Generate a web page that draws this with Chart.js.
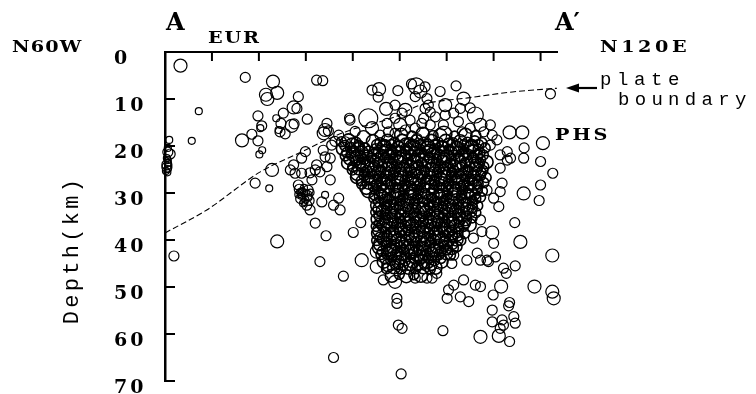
<!DOCTYPE html>
<html>
<head>
<meta charset="utf-8">
<script src="https://cdn.jsdelivr.net/npm/chart.js@4.4.0/dist/chart.umd.min.js"></script>
<style>
  html, body { margin: 0; padding: 0; background: #fff; }
  #wrap { width: 756px; height: 394px; position: relative; }
</style>
</head>
<body>
<div id="wrap"><canvas id="section"></canvas></div>
<script>
// distance along A-A' (km), depth (km), magnitude class (1 = small circle ... 5 = largest)
const scatteredQuakes = [
  [3.3,2.9,3],[17.1,5.4,2],[23.0,6.3,3],[21.5,9.1,3],[21.8,10.0,3],[23.9,8.7,3],[28.4,9.5,2],[7.2,12.6,1],
  [27.4,11.8,3],[25.2,13.0,2],[23.7,14.1,1],[19.8,13.6,2],[20.6,15.7,2],[20.3,16.2,1],[24.7,15.2,2],[27.5,15.3,2],
  [27.0,15.7,3],[24.2,16.6,1],[24.5,17.0,2],[25.6,17.4,2],[18.5,17.5,2],[16.4,18.8,3],[19.8,18.9,2],[5.7,18.9,1],
  [20.7,20.9,1],[20.1,21.8,1],[32.3,6.0,2],[33.6,6.1,2],[30.3,14.3,2],[34.1,16.6,3],[39.4,14.5,2],[43.3,14.1,5],
  [45.6,7.9,3],[49.6,8.2,2],[52.5,6.8,2],[53.5,7.2,4],[54.4,8.4,3],[53.3,9.5,2],[55.4,7.4,2],[58.6,8.4,2],
  [62.0,7.2,2],[82.1,8.9,2],[55.8,9.9,2],[63.6,9.9,3],[62.9,12.0,2],[66.1,13.4,4],[55.4,12.0,2],[55.1,14.1,2],
  [57.6,13.8,2],[59.7,13.4,2],[61.5,13.0,2],[59.3,15.5,2],[56.5,15.5,2],[62.5,14.8,2],[65.0,16.2,2],[67.9,17.0,2],
  [69.7,17.7,2],[70.7,18.7,2],[69.3,19.8,2],[73.4,17.1,3],[76.1,17.1,3],[76.5,20.4,2],[80.5,19.4,3],[76.4,22.6,2],
  [80.0,23.3,2],[72.9,21.2,2],[71.4,21.9,2],[73.6,22.6,2],[82.6,25.8,2],[80.0,28.3,2],[76.4,30.1,3],[71.4,24.7,2],
  [72.9,23.0,2],[71.8,27.9,2],[71.4,29.7,2],[79.7,31.6,2],[71.1,32.9,2],[70.0,31.1,2],[68.6,29.4,2],[74.5,36.3,2],
  [69.7,38.4,3],[75.7,40.4,3],[70.0,40.7,2],[70.4,43.6,2],[82.5,43.3,3],[74.6,45.5,2],[72.1,46.0,2],[67.2,35.7,2],
  [67.5,38.2,2],[65.7,39.6,2],[66.5,42.8,2],[68.6,44.3,2],[67.2,44.3,2],[64.3,44.3,2],[61.5,43.2,2],[61.1,45.0,2],
  [55.8,48.1,2],[57.9,47.1,2],[60.4,50.6,2],[61.5,49.6,2],[60.1,52.4,2],[62.9,52.1,2],[64.7,53.1,2],[66.1,49.6,2],
  [67.2,49.9,2],[63.6,48.5,2],[68.9,44.6,2],[72.7,47.1,2],[71.6,49.9,3],[69.9,51.7,2],[73.4,53.3,2],[73.2,54.0,2],
  [69.7,54.9,2],[74.3,56.3,2],[74.6,57.7,2],[71.8,57.0,2],[69.7,57.4,2],[72.1,58.1,2],[71.4,58.8,2],[71.1,60.4,3],
  [67.2,60.6,3],[73.4,61.6,2],[59.2,59.3,2],[78.7,49.9,3],[82.5,51.0,3],[82.8,52.4,3],[49.4,52.4,2],[49.4,53.5,2],
  [49.7,58.1,2],[50.5,58.8,2],[50.3,68.5,2],[46.5,48.5,2],[49.0,48.9,3],[53.3,48.1,2],[56.9,48.1,2],[45.1,45.7,3],
  [45.1,42.5,3],[38.0,47.7,2],[41.9,44.3,3],[33.0,44.6,2],[35.9,65.0,2],[32.0,36.4,2],[41.7,36.3,2],[40.1,38.4,2],
  [34.3,39.1,2],[1.9,43.4,2],[23.9,40.3,3],[22.8,25.1,3],[19.2,27.9,2],[22.2,29.0,1],[27.4,24.0,2],[27.7,25.8,2],
  [28.4,28.3,2],[29.1,25.8,2],[32.0,25.1,2],[34.5,24.4,2],[35.2,27.2,2],[31.3,27.2,2],[34.1,30.4,1],[33.4,31.9,2],
  [37.0,31.1,2],[35.9,32.6,2],[37.3,33.6,2],[30.9,33.6,2],[33.7,20.9,2],[35.2,22.6,2],[26.7,25.1,2],[30.9,25.7,2],
  [32.3,24.0,2],[33.0,25.5,2],[29.9,21.2,2],[29.1,22.6,2],[34.1,22.3,2],[35.5,19.8,2],[38.4,19.1,2],[41.2,19.8,2],
  [42.6,21.9,2],[46.9,19.8,2],[46.5,21.9,2],[44.8,23.0,2],[48.3,21.2,2],[34.5,15.2,2],[34.8,16.8,2],[33.8,17.3,3],
  [37.0,17.7,2],[47.3,15.2,2],[49.0,14.1,2],[47.6,17.0,2],[50.5,13.0,2],[52.2,14.5,2],[49.0,17.3,2],[51.2,16.6,2],
  [54.7,15.2,2],[53.7,18.4,2],[47.1,12.1,3],[39.3,14.1,2],[28.1,12.0,2],[44.1,8.1,2],[45.4,9.6,2],[56.1,11.3,2],
  [49.0,11.3,2],[51.2,12.3,3],[56.5,12.8,2],[59.7,11.3,3],[65.0,11.9,2],[67.2,15.5,3],[63.3,17.0,2],[58.6,17.7,3],
  [53.3,16.2,2],[50.1,15.5,3],[45.8,17.7,2],[44.1,16.2,3],[69.3,15.5,2],[40.5,16.9,2],[42.3,18.1,3],[36.2,19.0,2]
];

// small tight groups: at the section edge and the blob near 30 km
const edgeQuakes = [
  [0.9,18.7,1],[0.6,20.4,1],[0.6,21.3,2],[1.1,21.7,2],[0.4,22.6,1],[0.6,23.0,1],
  [0.6,23.6,1],[0.4,24.0,2],[0.4,24.5,2],[0.6,24.9,1],[0.2,25.3,1],[0.5,25.6,1]
];
const blobQuakes = [
  [28.6,29.2,2],[29.6,28.9,1],[30.5,29.4,2],[28.4,30.3,1],[29.3,30.1,2],[30.3,30.5,2],[31.0,29.9,1],
  [28.9,31.2,2],[29.9,31.4,1],[30.7,31.6,2],[29.4,32.2,1],[30.2,32.6,2],[29.0,30.6,1],[30.0,30.0,1],
  [29.2,29.6,1],[30.6,30.9,1],[29.7,31.9,1],[28.8,29.8,1]
];

// the dense swarm under the plate boundary, read row by row
const clusterQuakes = [
  [50.3,17.6,3],[52.6,17.9,2],[54.9,17.4,3],[57.1,17.8,2],[59.4,17.5,4],[61.7,17.9,2],[64.0,17.6,3],[66.2,17.8,2],
  [37.6,19.1,2],[39.1,18.8,3],[40.7,19.2,2],[44.3,19.0,3],[45.8,19.3,2],[47.4,18.9,3],[48.9,19.2,2],[50.5,18.9,3],[52.0,19.3,2],[53.6,19.0,3],[55.1,19.2,2],[56.7,18.9,3],[58.2,19.2,2],[59.8,18.9,3],[61.3,19.3,2],[62.9,19.0,3],[64.4,19.2,2],[66.0,18.9,2],[67.5,19.3,2],
  [37.9,20.6,3],[39.5,20.3,2],[41.1,20.7,3],[42.6,20.4,2],[44.9,20.6,2],[46.5,20.3,3],[48.1,20.7,2],[49.7,20.4,3],[51.2,20.6,2],[52.8,20.3,4],[54.3,20.7,2],[55.9,20.4,3],[57.4,20.6,2],[59.0,20.3,3],[60.5,20.7,2],[62.1,20.4,3],[63.6,20.6,2],[65.2,20.3,3],[66.7,20.7,2],[68.2,20.4,2],
  [38.4,22.1,2],[40.0,21.8,3],[41.6,22.2,2],[43.1,21.9,2],[44.6,22.1,3],[46.1,21.8,2],[47.7,22.2,3],[49.2,21.9,2],[50.8,22.1,3],[52.3,21.8,2],[53.9,22.2,3],[55.4,21.9,2],[57.0,22.1,4],[58.5,21.8,2],[60.1,22.2,3],[61.6,21.9,2],[63.2,22.1,3],[64.7,21.8,2],[66.3,22.2,3],[67.8,21.9,2],
  [39.0,23.6,3],[40.6,23.3,2],[42.2,23.7,3],[43.7,23.4,2],[45.3,23.6,2],[46.8,23.3,3],[48.4,23.7,2],[49.9,23.4,3],[51.5,23.6,2],[53.0,23.3,3],[54.6,23.7,2],[56.1,23.4,3],[57.7,23.6,2],[59.2,23.3,3],[60.8,23.7,2],[62.3,23.4,4],[63.9,23.6,2],[65.4,23.3,3],[67.0,23.7,2],[68.5,23.4,3],
  [39.9,25.1,2],[41.4,24.8,3],[43.0,25.2,2],[44.5,24.9,3],[46.0,25.1,2],[47.6,24.8,3],[49.1,25.2,2],[50.7,24.9,3],[52.2,25.1,2],[53.8,24.8,3],[55.3,25.2,2],[56.9,24.9,3],[58.4,25.1,2],[60.0,24.8,3],[61.5,25.2,2],[63.1,24.9,3],[64.6,25.1,2],[66.2,24.8,3],[67.7,25.2,2],
  [40.9,26.6,3],[42.4,26.3,2],[44.0,26.7,3],[45.5,26.4,2],[47.1,26.6,3],[48.6,26.3,2],[50.2,26.7,3],[51.7,26.4,2],[53.3,26.6,4],[54.8,26.3,2],[56.4,26.7,3],[57.9,26.4,2],[59.5,26.6,3],[61.0,26.3,2],[62.6,26.7,3],[64.1,26.4,2],[65.7,26.6,3],[67.2,26.3,2],[68.4,26.7,2],
  [41.9,28.1,2],[43.4,27.8,3],[45.0,28.2,2],[46.5,27.9,3],[48.1,28.1,2],[49.6,27.8,3],[51.2,28.2,2],[52.7,27.9,3],[54.3,28.1,2],[55.8,27.8,3],[57.4,28.2,2],[58.9,27.9,3],[60.5,28.1,2],[62.0,27.8,3],[63.6,28.2,2],[65.1,27.9,3],[66.7,28.1,2],[67.9,27.8,2],
  [43.3,29.6,3],[44.8,29.3,2],[46.4,29.7,3],[47.9,29.4,2],[49.5,29.6,3],[51.0,29.3,2],[52.6,29.7,3],[54.1,29.4,2],[55.7,29.6,4],[57.2,29.3,2],[58.8,29.7,3],[60.3,29.4,2],[61.9,29.6,3],[63.4,29.3,2],[65.0,29.7,3],[66.5,29.4,2],[67.6,29.6,2],
  [44.5,31.1,2],[46.0,30.8,3],[47.6,31.2,2],[49.1,30.9,3],[50.7,31.1,2],[52.2,30.8,3],[53.8,31.2,2],[55.3,30.9,3],[56.9,31.1,2],[58.4,30.8,3],[60.0,31.2,2],[61.5,30.9,3],[63.1,31.1,2],[64.6,30.8,3],[66.2,31.2,2],[67.2,30.9,2],
  [45.2,32.6,3],[46.8,32.3,2],[48.3,32.7,3],[49.9,32.4,2],[51.4,32.6,3],[53.0,32.3,2],[54.5,32.7,4],[56.1,32.4,2],[57.6,32.6,3],[59.2,32.3,2],[60.7,32.7,3],[62.3,32.4,2],[63.8,32.6,3],[65.4,32.3,2],[66.6,32.7,2],
  [44.9,34.1,2],[46.4,33.8,3],[48.0,34.2,2],[49.5,33.9,3],[51.1,34.1,2],[52.6,33.8,3],[54.2,34.2,2],[55.7,33.9,3],[57.3,34.1,2],[58.8,33.8,3],[60.4,34.2,2],[61.9,33.9,3],[63.5,34.1,2],[65.0,33.8,3],[66.2,34.2,2],
  [45.3,35.6,3],[46.9,35.3,2],[48.4,35.7,3],[50.0,35.4,2],[51.5,35.6,3],[53.1,35.3,2],[54.6,35.7,3],[56.2,35.4,2],[57.7,35.6,4],[59.3,35.3,2],[60.8,35.7,3],[62.4,35.4,2],[63.9,35.6,3],[65.4,35.3,2],
  [45.0,37.1,2],[46.5,36.8,3],[48.1,37.2,2],[49.6,36.9,3],[51.2,37.1,2],[52.7,36.8,3],[54.3,37.2,2],[55.8,36.9,3],[57.4,37.1,2],[58.9,36.8,3],[60.5,37.2,2],[62.0,36.9,3],[63.6,37.1,2],[64.9,36.8,3],
  [45.4,38.6,3],[46.9,38.3,2],[48.5,38.7,3],[50.0,38.4,2],[51.6,38.6,3],[53.1,38.3,2],[54.7,38.7,4],[56.2,38.4,2],[57.8,38.6,3],[59.3,38.3,2],[60.9,38.7,3],[62.4,38.4,2],[63.8,38.6,2],
  [45.1,40.1,2],[46.6,39.8,3],[48.2,40.2,2],[49.7,39.9,3],[51.3,40.1,2],[52.8,39.8,3],[54.4,40.2,2],[55.9,39.9,3],[57.5,40.1,2],[59.0,39.8,3],[60.6,40.2,2],[62.1,39.9,3],[63.0,40.1,2],
  [45.6,41.6,3],[47.1,41.3,2],[48.7,41.7,3],[50.2,41.4,2],[51.8,41.6,3],[53.3,41.3,2],[54.9,41.7,3],[56.4,41.4,2],[58.0,41.6,3],[59.5,41.3,2],[61.1,41.7,3],[62.2,41.4,2],
  [46.0,43.1,2],[47.5,42.8,3],[49.1,43.2,2],[50.6,42.9,3],[52.2,43.1,2],[53.7,42.8,4],[55.3,43.2,2],[56.8,42.9,3],[58.4,43.1,2],[59.9,42.8,3],[60.8,43.2,2],
  [46.6,44.6,3],[48.1,44.3,2],[49.7,44.7,3],[51.2,44.4,2],[52.8,44.6,3],[54.3,44.3,2],[55.9,44.7,3],[57.4,44.4,2],[58.9,44.6,3],
  [47.2,46.1,2],[48.8,45.8,3],[50.3,46.2,2],[51.9,45.9,3],[53.4,46.1,2],[55.0,45.8,3],[56.5,46.2,2],[57.6,45.9,3],
  [48.3,47.6,3],[49.9,47.3,2],[51.4,47.7,3],[53.0,47.4,2],[54.5,47.6,3]
];

// the swarm core, read between the rows above
const coreQuakes = [
  [38.3,19.9,2],[39.9,19.7,3],[41.4,20.0,2],[45.1,19.7,2],[46.7,20.0,3],[48.2,19.7,2],[49.8,20.0,2],[51.3,19.7,3],[52.9,20.0,2],[54.4,19.7,2],[56.0,20.0,3],[57.5,19.7,2],[59.1,20.0,2],[60.6,19.7,3],[62.2,20.0,2],[63.7,19.7,2],[65.3,20.0,3],[66.8,19.7,2],
  [38.7,21.4,2],[40.3,21.1,2],[41.9,21.4,3],[43.4,21.1,2],[45.4,21.4,2],[47.0,21.1,3],[48.5,21.4,2],[50.1,21.1,2],[51.6,21.4,3],[53.2,21.1,2],[54.7,21.4,2],[56.3,21.1,3],[57.8,21.4,2],[59.4,21.1,2],[60.9,21.4,3],[62.5,21.1,2],[64.0,21.4,2],[65.6,21.1,3],[67.1,21.4,2],
  [39.2,22.9,2],[40.8,22.6,3],[42.4,22.9,2],[43.9,22.6,2],[45.5,22.9,3],[47.0,22.6,2],[48.6,22.9,2],[50.1,22.6,3],[51.7,22.9,2],[53.2,22.6,2],[54.8,22.9,3],[56.3,22.6,2],[57.9,22.9,2],[59.4,22.6,3],[61.0,22.9,2],[62.5,22.6,2],[64.1,22.9,3],[65.6,22.6,2],[67.2,22.9,2],
  [40.0,24.4,2],[41.6,24.1,2],[43.1,24.4,3],[44.7,24.1,2],[46.2,24.4,2],[47.8,24.1,3],[49.3,24.4,2],[50.9,24.1,2],[52.4,24.4,3],[54.0,24.1,2],[55.5,24.4,2],[57.1,24.1,3],[58.6,24.4,2],[60.2,24.1,2],[61.7,24.4,3],[63.3,24.1,2],[64.8,24.4,2],[66.4,24.1,3],[67.9,24.4,2],
  [40.9,25.9,3],[42.5,25.6,2],[44.0,25.9,2],[45.6,25.6,3],[47.1,25.9,2],[48.7,25.6,2],[50.2,25.9,3],[51.8,25.6,2],[53.3,25.9,2],[54.9,25.6,3],[56.4,25.9,2],[58.0,25.6,2],[59.5,25.9,3],[61.1,25.6,2],[62.6,25.9,2],[64.2,25.6,3],[65.7,25.9,2],[67.3,25.6,2],
  [41.8,27.4,2],[43.3,27.1,2],[44.9,27.4,3],[46.4,27.1,2],[48.0,27.4,2],[49.5,27.1,3],[51.1,27.4,2],[52.6,27.1,2],[54.2,27.4,3],[55.7,27.1,2],[57.3,27.4,2],[58.8,27.1,3],[60.4,27.4,2],[61.9,27.1,2],[63.5,27.4,3],[65.0,27.1,2],[66.6,27.4,2],
  [42.9,28.9,3],[44.4,28.6,2],[46.0,28.9,2],[47.5,28.6,3],[49.1,28.9,2],[50.6,28.6,2],[52.2,28.9,3],[53.7,28.6,2],[55.3,28.9,2],[56.8,28.6,3],[58.4,28.9,2],[59.9,28.6,2],[61.5,28.9,3],[63.0,28.6,2],[64.6,28.9,2],[66.1,28.6,3],
  [44.6,30.4,2],[46.1,30.1,2],[47.7,30.4,3],[49.2,30.1,2],[50.8,30.4,2],[52.3,30.1,3],[53.9,30.4,2],[55.4,30.1,2],[57.0,30.4,3],[58.5,30.1,2],[60.1,30.4,2],[61.6,30.1,3],[63.2,30.4,2],[64.7,30.1,2],[66.0,30.4,2],
  [45.5,31.9,2],[47.0,31.6,3],[48.6,31.9,2],[50.1,31.6,2],[51.7,31.9,3],[53.2,31.6,2],[54.8,31.9,2],[56.3,31.6,3],[57.9,31.9,2],[59.4,31.6,2],[61.0,31.9,3],[62.5,31.6,2],[64.1,31.9,2],[65.5,31.6,2],
  [45.7,33.4,3],[47.2,33.1,2],[48.8,33.4,2],[50.3,33.1,3],[51.9,33.4,2],[53.4,33.1,2],[55.0,33.4,3],[56.5,33.1,2],[58.1,33.4,2],[59.6,33.1,3],[61.2,33.4,2],[62.7,33.1,2],[64.3,33.4,3],[65.5,33.1,2],
  [45.6,34.9,2],[47.1,34.6,2],[48.7,34.9,3],[50.2,34.6,2],[51.8,34.9,2],[53.3,34.6,3],[54.9,34.9,2],[56.4,34.6,2],[58.0,34.9,3],[59.5,34.6,2],[61.1,34.9,2],[62.6,34.6,3],[64.2,34.9,2],
  [45.7,36.4,2],[47.2,36.1,3],[48.8,36.4,2],[50.3,36.1,2],[51.9,36.4,3],[53.4,36.1,2],[55.0,36.4,2],[56.5,36.1,3],[58.1,36.4,2],[59.6,36.1,2],[61.2,36.4,3],[62.7,36.1,2],[64.0,36.4,2],
  [45.6,37.9,3],[47.1,37.6,2],[48.7,37.9,2],[50.2,37.6,3],[51.8,37.9,2],[53.3,37.6,2],[54.9,37.9,3],[56.4,37.6,2],[58.0,37.9,2],[59.5,37.6,3],[61.1,37.9,2],[62.6,37.6,2],
  [45.8,39.4,2],[47.3,39.1,2],[48.9,39.4,3],[50.4,39.1,2],[52.0,39.4,2],[53.5,39.1,3],[55.1,39.4,2],[56.6,39.1,2],[58.2,39.4,3],[59.7,39.1,2],[61.3,39.4,2],[62.4,39.1,2],
  [45.8,40.9,3],[47.3,40.6,2],[48.9,40.9,2],[50.4,40.6,3],[52.0,40.9,2],[53.5,40.6,2],[55.1,40.9,3],[56.6,40.6,2],[58.2,40.9,2],[59.7,40.6,3],[61.3,40.9,2],
  [46.3,42.4,2],[47.8,42.1,3],[49.4,42.4,2],[50.9,42.1,2],[52.5,42.4,3],[54.0,42.1,2],[55.6,42.4,2],[57.1,42.1,3],[58.7,42.4,2],[60.0,42.1,2],
  [46.8,43.9,2],[48.3,43.6,2],[49.9,43.9,3],[51.4,43.6,2],[53.0,43.9,2],[54.5,43.6,3],[56.1,43.9,2],[57.6,43.6,2],[58.8,43.9,2],
  [47.6,45.4,3],[49.1,45.1,2],[50.7,45.4,2],[52.2,45.1,3],[53.8,45.4,2],[55.3,45.1,2],[56.8,45.4,2]
];

// plate boundary trace
const boundaryX = [0, 8.9, 20.3, 27.7, 38.4, 49.0, 54.4, 65.0, 74.0, 83.5];
const boundaryZ = [38.5, 33.6, 25.5, 21.9, 17.0, 13.8, 11.3, 9.7, 8.5, 7.7];

const depthTicks = [10, 20, 30, 40, 50, 60, 70];
const distTicks = [10, 20, 30, 40, 50, 60, 70, 80];

const toPoint = q => ({ x: q[0], y: q[1], m: q[2] });
const looseQuakes = [...scatteredQuakes, ...edgeQuakes, ...blobQuakes].map(toPoint);
const swarmQuakes = [...clusterQuakes, ...coreQuakes].map(toPoint);
const boundary = boundaryX.map((x, i) => ({ x: x, y: boundaryZ[i] }));

const ink = '#000';
const serif = 'DejaVu Serif';
const mono = 'Liberation Mono';

function radiusFor(m) {
    return 2 + 1.5 * m;
}

// text is drawn a bit wider than the font, like the typewriter lettering of the figure
function drawLabel(ctx, text, x, y, font, spacing, stretch) {
    ctx.save();
    ctx.font = font;
    ctx.letterSpacing = spacing + 'px';
    ctx.translate(x, y);
    ctx.scale(stretch || 1, 1);
    ctx.fillText(text, 0, 0);
    ctx.restore();
}

// inward tick marks and the text annotations
const decorations = {
    id: 'decorations',
    beforeDraw(chart) {
        chart.ctx.letterSpacing = '3px';
    },
    afterDraw(chart) {
        const ctx = chart.ctx;
        const area = chart.chartArea;
        const xs = chart.scales.x;
        const ys = chart.scales.y;
        ctx.save();
        ctx.strokeStyle = ink;
        ctx.fillStyle = ink;
        ctx.lineWidth = 2;
        depthTicks.forEach(v => {
            const py = ys.getPixelForValue(v);
            ctx.beginPath();
            ctx.moveTo(area.left, py);
            ctx.lineTo(area.left + 10, py);
            ctx.stroke();
        });
        distTicks.forEach(v => {
            const px = xs.getPixelForValue(v);
            ctx.beginPath();
            ctx.moveTo(px, area.top);
            ctx.lineTo(px, area.top + 9);
            ctx.stroke();
        });

        // arrow to the plate boundary
        ctx.lineWidth = 2.2;
        ctx.beginPath();
        ctx.moveTo(597, 88);
        ctx.lineTo(576, 88);
        ctx.stroke();
        ctx.beginPath();
        ctx.moveTo(566, 88);
        ctx.lineTo(579, 83.5);
        ctx.lineTo(579, 92.5);
        ctx.closePath();
        ctx.fill();

        ctx.textAlign = 'left';
        ctx.textBaseline = 'alphabetic';
        drawLabel(ctx, 'N60W', 12, 52, 'bold 16px ' + serif, 1, 1.2);
        drawLabel(ctx, 'A', 166, 30, 'bold 24px ' + serif, 0, 1);
        drawLabel(ctx, 'EUR', 208, 43, 'bold 16px ' + serif, 1.5, 1.2);
        drawLabel(ctx, 'A\u2032', 555, 30, 'bold 24px ' + serif, 0, 1);
        drawLabel(ctx, 'N120E', 600, 52, 'bold 16px ' + serif, 3, 1.2);
        drawLabel(ctx, 'plate', 600, 85, '19px ' + mono, 5.6, 1);
        drawLabel(ctx, 'boundary', 618, 105, '19px ' + mono, 5.3, 1);
        drawLabel(ctx, 'PHS', 555, 140, 'bold 16px ' + serif, 2.5, 1.2);

        ctx.translate(78, 250);
        ctx.rotate(-Math.PI / 2);
        ctx.textAlign = 'center';
        drawLabel(ctx, 'Depth(km)', 0, 0, '22px ' + mono, 3.3, 1);
        ctx.restore();
        ctx.letterSpacing = '0px';
    }
};

const chart = new Chart(document.getElementById('section'), {
    type: 'scatter',
    data: {
        datasets: [
            {
                label: 'plate boundary',
                data: boundary,
                showLine: true,
                borderColor: ink,
                borderWidth: 1.1,
                borderDash: [6, 3],
                pointRadius: 0,
                cubicInterpolationMode: 'monotone',
                clip: false
            },
            {
                label: 'hypocenters',
                data: looseQuakes,
                pointRadius: c => radiusFor(c.raw.m),
                pointBorderColor: ink,
                pointBackgroundColor: 'rgba(0,0,0,0)',
                pointBorderWidth: 1.2,
                clip: 14
            },
            {
                label: 'swarm',
                data: swarmQuakes,
                pointRadius: c => radiusFor(c.raw.m),
                pointBorderColor: ink,
                pointBackgroundColor: 'rgba(0,0,0,0)',
                pointBorderWidth: 1.6,
                clip: 14
            }
        ]
    },
    options: {
        responsive: true,
        maintainAspectRatio: false,
        animation: false,
        events: [],
        layout: { padding: { left: 114, top: 52, right: 199, bottom: 13 } },
        plugins: {
            legend: { display: false },
            tooltip: { enabled: false }
        },
        scales: {
            x: {
                type: 'linear',
                position: 'top',
                min: 0,
                max: 83.5,
                grid: { display: false },
                ticks: { display: false },
                border: { display: true, color: ink, width: 2 },
                afterFit: s => { s.height = 0; }
            },
            y: {
                type: 'linear',
                position: 'left',
                reverse: true,
                min: 0,
                max: 70,
                grid: { display: false },
                border: { display: true, color: ink, width: 2.5 },
                ticks: {
                    stepSize: 10,
                    color: ink,
                    padding: 0,
                    crossAlign: 'far',
                    labelOffset: 7,
                    font: { family: serif, size: 19, weight: 'bold' }
                },
                afterFit: s => { s.width = 51; }
            }
        }
    },
    plugins: [decorations]
});
</script>
</body>
</html>
